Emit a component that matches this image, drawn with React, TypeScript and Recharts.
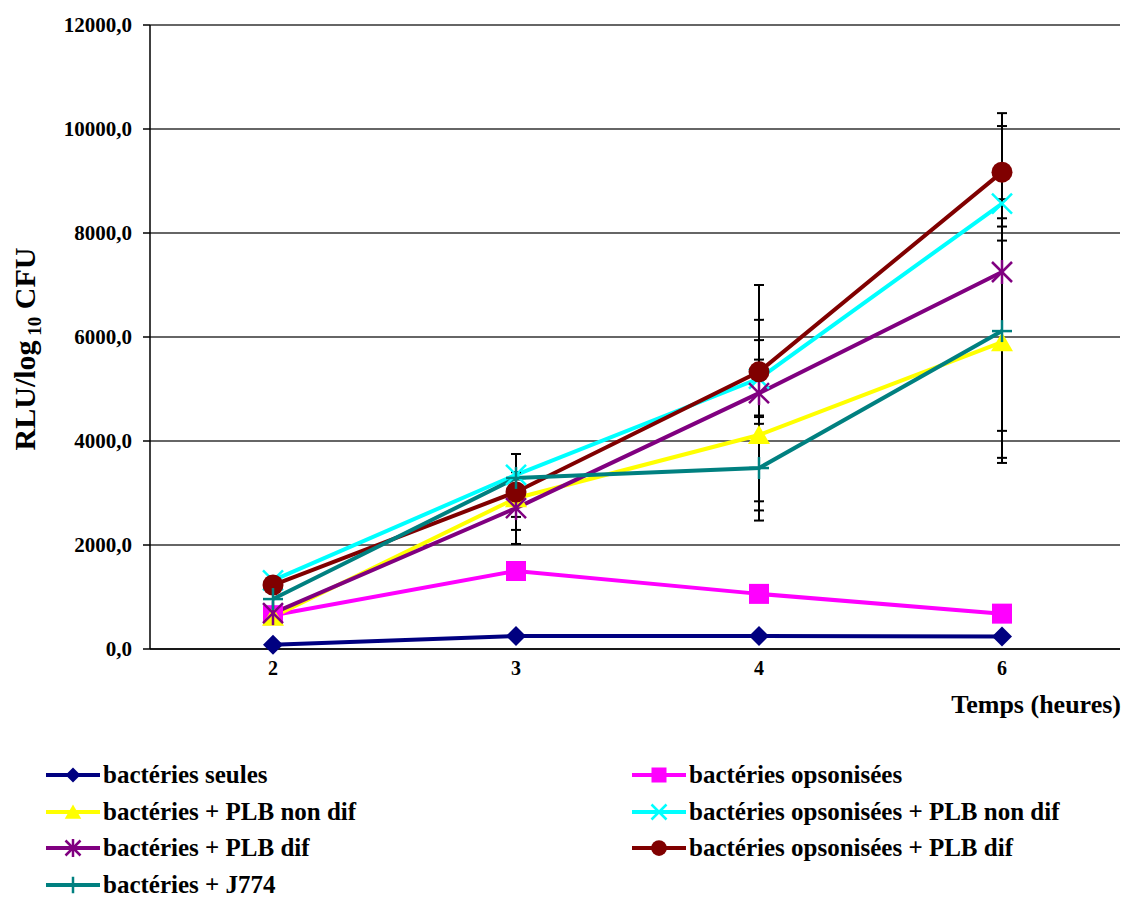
import React from 'react';
import { LineChart, Line, XAxis, YAxis, CartesianGrid, ErrorBar, Label } from 'recharts';

const times = ['2', '3', '4', '6'];
const seules = [80, 250, 250, 240];
const opsonisees = [650, 1500, 1060, 680];
const plbNonDif = [620, 2900, 4115, 5900];
const opsPlbNonDif = [1320, 3350, 5200, 8565];
const plbDif = [690, 2710, 4920, 7250];
const opsPlbDif = [1230, 3020, 5330, 9170];
const j774 = [960, 3290, 3480, 6114];

const plbNonDifErr = [0, 360, 1450, 2224];
const opsPlbNonDifErr = [0, 0, 740, 711];
const plbDifErr = [0, 690, 2080, 3055];
const opsPlbDifErr = [0, 730, 1000, 887];
const j774Err = [0, 0, 1010, 2536];

const yTicks = [0, 2000, 4000, 6000, 8000, 10000, 12000];

const FONT = '"Times New Roman", "Liberation Serif", Times, serif';

type Def = { key: string; name: string; color: string; values: number[]; err: number[] | null; marker: string };

const seriesDefs: Def[] = [
  { key: 'seules', name: 'bactéries seules', color: '#000080', values: seules, err: null, marker: 'diamond' },
  { key: 'opsonisees', name: 'bactéries opsonisées', color: '#FF00FF', values: opsonisees, err: null, marker: 'square' },
  { key: 'plbNonDif', name: 'bactéries + PLB non dif', color: '#FFFF00', values: plbNonDif, err: plbNonDifErr, marker: 'triangle' },
  { key: 'opsPlbNonDif', name: 'bactéries opsonisées + PLB non dif', color: '#00FFFF', values: opsPlbNonDif, err: opsPlbNonDifErr, marker: 'x' },
  { key: 'plbDif', name: 'bactéries + PLB dif', color: '#800080', values: plbDif, err: plbDifErr, marker: 'star' },
  { key: 'opsPlbDif', name: 'bactéries opsonisées + PLB dif', color: '#800000', values: opsPlbDif, err: opsPlbDifErr, marker: 'circle' },
  { key: 'j774', name: 'bactéries + J774', color: '#008080', values: j774, err: j774Err, marker: 'plus' },
];

const data = times.map((t, i) => {
  const row: any = { t };
  seriesDefs.forEach((s) => {
    row[s.key] = s.values[i];
    if (s.err) row[s.key + 'Err'] = s.err[i];
  });
  return row;
});

function Marker({ type, cx, cy, color, scale = 1 }: { type: string; cx: number; cy: number; color: string; scale?: number }) {
  const s = 10 * scale;
  switch (type) {
    case 'diamond':
      return <path d={`M${cx},${cy - s} L${cx + s},${cy} L${cx},${cy + s} L${cx - s},${cy} Z`} fill={color} />;
    case 'square':
      return <rect x={cx - s} y={cy - s} width={2 * s} height={2 * s} fill={color} />;
    case 'triangle':
      return <path d={`M${cx},${cy - s} L${cx + s * 1.1},${cy + s * 0.9} L${cx - s * 1.1},${cy + s * 0.9} Z`} fill={color} />;
    case 'x':
      return (
        <g stroke={color} strokeWidth={2.5}>
          <line x1={cx - s} y1={cy - s} x2={cx + s} y2={cy + s} />
          <line x1={cx - s} y1={cy + s} x2={cx + s} y2={cy - s} />
        </g>
      );
    case 'star':
      return (
        <g stroke={color} strokeWidth={2.5}>
          <line x1={cx - s} y1={cy - s} x2={cx + s} y2={cy + s} />
          <line x1={cx - s} y1={cy + s} x2={cx + s} y2={cy - s} />
          <line x1={cx} y1={cy - s * 1.2} x2={cx} y2={cy + s * 1.2} />
        </g>
      );
    case 'circle':
      return <circle cx={cx} cy={cy} r={s * 1.05} fill={color} />;
    case 'plus':
      return (
        <g stroke={color} strokeWidth={2.5}>
          <line x1={cx - s} y1={cy} x2={cx + s} y2={cy} />
          <line x1={cx} y1={cy - s * 1.1} x2={cx} y2={cy + s * 1.1} />
        </g>
      );
    default:
      return null;
  }
}

const fmt = (v: number) => v.toFixed(1).replace('.', ',');

const legendRows = [775, 812, 848, 885];

export default function App() {
  return (
    <div style={{ position: 'absolute', left: 0, top: 0, width: 1124, height: 897, background: '#fff' }}>
      <LineChart width={1124} height={730} data={data} margin={{ top: 25, right: 4, left: 0, bottom: 0 }}>
        <CartesianGrid vertical={false} stroke="#333" strokeWidth={1.3} />
        <XAxis
          dataKey="t"
          padding={{ left: 123, right: 118 }}
          height={81}
          tickLine={false}
          tickSize={6}
          tickMargin={6}
          axisLine={{ stroke: '#000', strokeWidth: 1.5 }}
          tick={{ fill: '#000', fontSize: 20, fontWeight: 'bold', fontFamily: FONT }}
        >
          <Label
            content={(p: any) => {
              const vb = p.viewBox;
              return (
                <text x={vb.x + vb.width + 1} y={vb.y + 64} textAnchor="end" fontFamily={FONT} fontWeight="bold" fontSize={26} fill="#000">
                  Temps (heures)
                </text>
              );
            }}
          />
        </XAxis>
        <YAxis
          width={150}
          domain={[0, 12000]}
          ticks={yTicks}
          tickFormatter={fmt}
          tickSize={7}
          tickMargin={11}
          axisLine={{ stroke: '#000', strokeWidth: 1.5 }}
          tickLine={{ stroke: '#000', strokeWidth: 1.5 }}
          tick={{ fill: '#000', fontSize: 21, fontWeight: 'bold', fontFamily: FONT }}
          interval={0}
        >
          <Label
            content={(p: any) => {
              const vb = p.viewBox;
              const cx = 35;
              const cy = vb.y + vb.height / 2 + 12;
              return (
                <text x={cx} y={cy} transform={`rotate(-90, ${cx}, ${cy})`} textAnchor="middle" fontFamily={FONT} fontWeight="bold" fontSize={30} fill="#000">
                  RLU/log
                  <tspan fontSize={19} dy={6}> 10</tspan>
                  <tspan dy={-6}> CFU</tspan>
                </text>
              );
            }}
          />
        </YAxis>
        {seriesDefs.map((s) => (
          <Line
            key={s.key}
            type="linear"
            dataKey={s.key}
            name={s.name}
            stroke={s.color}
            strokeWidth={4}
            isAnimationActive={false}
            dot={(p: any) =>
              p.cx == null || p.cy == null ? (
                <g key={`${s.key}-d-${p.index}`} />
              ) : (
                <Marker key={`${s.key}-d-${p.index}`} type={s.marker} cx={p.cx} cy={p.cy} color={s.color} />
              )
            }
            activeDot={false}
          >
            {s.err ? <ErrorBar dataKey={s.key + 'Err'} width={5} stroke="#000" strokeWidth={2} direction="y" /> : null}
          </Line>
        ))}
      </LineChart>
      {seriesDefs.map((s, i) => {
        const col = i % 2;
        const row = Math.floor(i / 2);
        const left = col === 0 ? 46 : 632;
        const top = legendRows[row] - 16;
        return (
          <div
            key={s.key}
            style={{ position: 'absolute', left, top, height: 32, display: 'flex', alignItems: 'center', whiteSpace: 'nowrap' }}
          >
            <svg width={54} height={32}>
              <line x1={0} y1={16} x2={54} y2={16} stroke={s.color} strokeWidth={4} />
              <Marker type={s.marker} cx={27} cy={16} color={s.color} scale={0.75} />
            </svg>
            <span style={{ marginLeft: 3, fontFamily: FONT, fontWeight: 'bold', fontSize: 25, color: '#000' }}>{s.name}</span>
          </div>
        );
      })}
    </div>
  );
}
